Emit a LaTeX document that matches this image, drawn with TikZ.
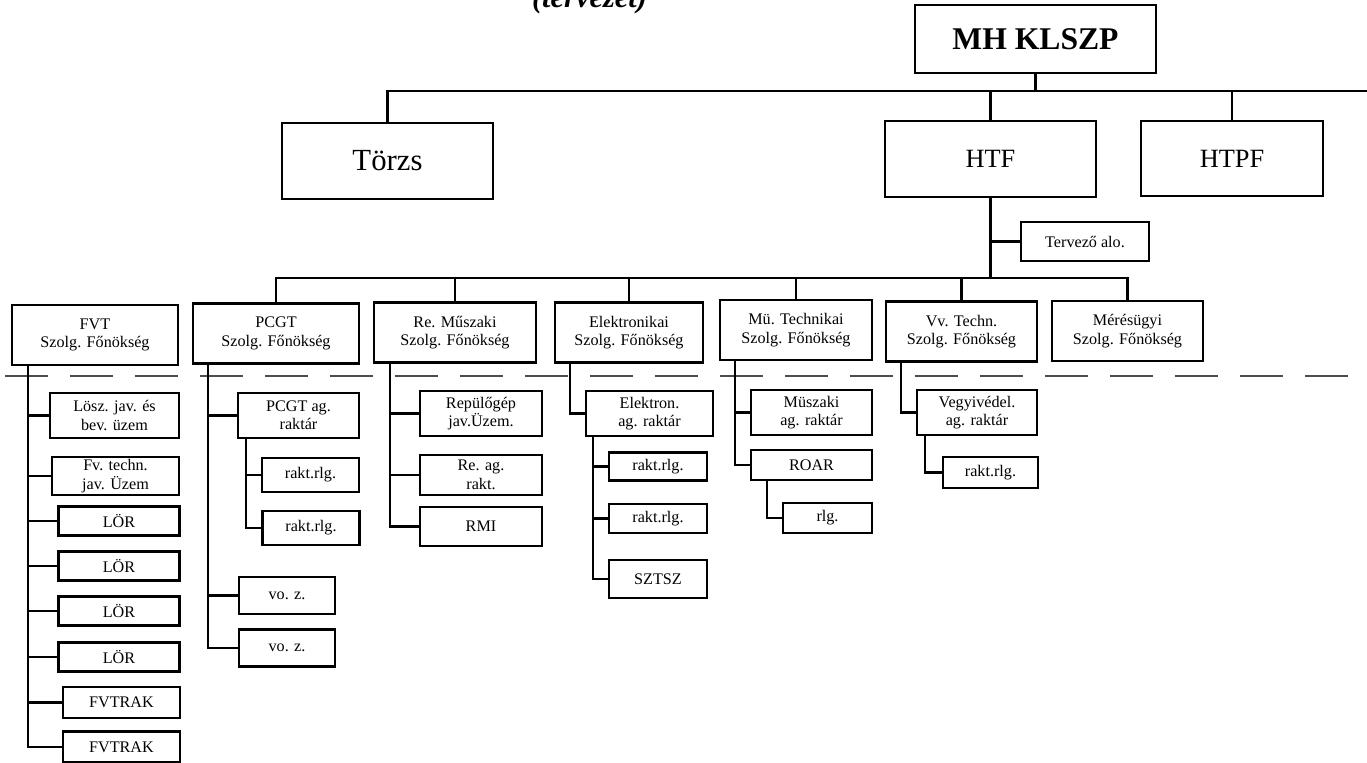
\documentclass[tikz,border=0pt]{standalone}
\usepackage{fontspec}
\setmainfont{Liberation Serif}[BoldFont={Liberation Serif Bold},ItalicFont={Liberation Serif Italic},BoldItalicFont={Liberation Serif Bold Italic}]

\begin{document}
\begin{tikzpicture}[x=0.02cm,y=-0.02cm,line width=1.3pt,
  box/.style={draw,inner sep=1pt,align=center,font=\fontsize{9.2}{10.5}\selectfont},
  bigbox/.style={draw,inner sep=2pt,minimum width=4.22cm,minimum height=1.52cm},
  cutline/.style={line width=0.6pt,black!70,dash pattern=on 0.86cm off 0.44cm}]
\useasboundingbox (0,0) rectangle (1367,763);
\node[anchor=base,font=\fontsize{17.3}{20}\selectfont\bfseries\itshape] (title) at (589.5,8) {(tervezet)};
  % Top level
  \node[bigbox,minimum width=4.82cm,minimum height=1.36cm,font=\fontsize{18}{20}\selectfont\bfseries] (mh) at (1035.5,39) {MH KLSZP};
  \node[bigbox,font=\fontsize{17.5}{20}\selectfont] (torzs) at (387.5,161) {Törzs};
  \node[bigbox,font=\fontsize{15}{18}\selectfont] (htf) at (990.5,159) {HTF};
  \node[bigbox,minimum width=3.64cm,minimum height=1.5cm,font=\fontsize{15}{18}\selectfont] (htpf) at (1232,158.5) {HTPF};
  \node[box,minimum width=2.56cm,minimum height=0.78cm] (terv) at (1085,241.5) {Tervező alo.};
  % Service chiefs
  \foreach \n/\x/\y/\w/\t in {fvt/95/335/3.32/FVT,pcgt/276/333.5/3.32/PCGT,rem/455/332.5/3.24/Re. Műszaki,
      elek/629/332.5/2.96/Elektronikai,mut/796/330/3.04/Mü. Technikai,vvt/961.5/331.5/3.02/Vv. Techn.,
      mer/1127.5/331/3.02/Mérésügyi}
    \node[box,minimum width=\w cm,minimum height=1.2cm] (\n) at (\x,\y) {\t\\Szolg. Főnökség};
  % Dashed separator
  \draw[cutline] (5,376) -- (1360,376);
  % FVT column
  \node[box,minimum width=2.58cm,minimum height=0.9cm] (losz) at (114.5,415.5) {Lösz. jav. és\\bev. üzem};
  \node[box,minimum width=2.54cm,minimum height=0.76cm] (fvj) at (115.5,476) {Fv. techn.\\jav. Üzem};
  \foreach \i/\y in {1/521,2/566,3/611,4/657}
    \node[box,minimum width=2.42cm,minimum height=0.58cm] (lor\i) at (119,\y) {LÖR};
  \foreach \i/\y in {1/702.5,2/747}
    \node[box,minimum width=2.34cm,minimum height=0.62cm] (rak\i) at (121.5,\y) {FVTRAK};
  % PCGT column
  \node[box,minimum width=2.42cm,minimum height=0.9cm] (pag) at (298.5,415.5) {PCGT ag.\\raktár};
  \node[box,minimum width=1.94cm,minimum height=0.68cm] (prr1) at (310.5,475) {rakt.rlg.};
  \node[box,minimum width=1.94cm,minimum height=0.68cm] (prr2) at (311,528) {rakt.rlg.};
  \node[box,minimum width=1.92cm,minimum height=0.74cm] (voz1) at (287,595.5) {vo. z.};
  \node[box,minimum width=1.92cm,minimum height=0.74cm] (voz2) at (287,648) {vo. z.};
  % Re. Muszaki column
  \node[box,minimum width=2.44cm,minimum height=0.9cm] (rep) at (481,413.5) {Repülőgép\\jav.Üzem.};
  \node[box,minimum width=2.44cm,minimum height=0.8cm] (rag) at (481,475) {Re. ag.\\rakt.};
  \node[box,minimum width=2.44cm,minimum height=0.78cm] (rmi) at (481,526.5) {RMI};
  % Elektronikai column
  \node[box,minimum width=2.54cm,minimum height=0.9cm] (eag) at (649.5,413.5) {Elektron.\\ag. raktár};
  \node[box,minimum width=1.96cm,minimum height=0.56cm] (err1) at (658,466.5) {rakt.rlg.};
  \node[box,minimum width=1.96cm,minimum height=0.58cm] (err2) at (658,518.5) {rakt.rlg.};
  \node[box,minimum width=1.96cm,minimum height=0.76cm] (sztsz) at (658,579) {SZTSZ};
  % Mu. Technikai column
  \node[box,minimum width=2.42cm,minimum height=0.9cm] (mag) at (811.5,412.5) {Müszaki\\ag. raktár};
  \node[box,minimum width=2.42cm,minimum height=0.6cm] (roar) at (811.5,465) {ROAR};
  \node[box,minimum width=1.78cm,minimum height=0.6cm] (rlg) at (827.5,518) {rlg.};
  % Vv. Techn. column
  \node[box,minimum width=2.4cm,minimum height=0.9cm] (vag) at (977,412.5) {Vegyivédel.\\ag. raktár};
  \node[box,minimum width=1.9cm,minimum height=0.62cm] (vrr) at (990.5,472.5) {rakt.rlg.};
  % Draw top connectors
  \coordinate (barR) at (1367,91);
  \draw (torzs.north) |- (barR);
  \foreach \n in {mh.south,htf.north,htpf.north}
    \draw (\n) -- (\n |- barR);
  % Draw HTF connectors
  \coordinate (bar2) at (0,278);
  \draw (htf.south) -- (htf.south |- bar2);
  \draw (htf.south |- terv.west) -- (terv.west);
  \draw (pcgt.north) |- (mer.north |- bar2) -- (mer.north);
  \foreach \n in {rem,elek,mut,vvt}
    \draw (\n.north) -- (\n.north |- bar2);
  % Draw column trunks
  \coordinate (fvtT) at ([xshift=0.34cm]fvt.south west);
  \foreach \c in {losz,fvj,lor1,lor2,lor3,lor4,rak1,rak2}
    \draw (fvtT) |- (\c.west);
  \coordinate (pcgtT) at ([xshift=0.32cm]pcgt.south west);
  \foreach \c in {pag,voz1,voz2}
    \draw (pcgtT) |- (\c.west);
  \coordinate (pagT) at ([xshift=0.18cm]pag.south west);
  \foreach \c in {prr1,prr2}
    \draw (pagT) |- (\c.west);
  \coordinate (remT) at ([xshift=0.34cm]rem.south west);
  \foreach \c in {rep,rag,rmi}
    \draw (remT) |- (\c.west);
  \coordinate (elekT) at ([xshift=0.32cm]elek.south west);
  \draw (elekT) |- (eag.west);
  \coordinate (eagT) at ([xshift=0.16cm]eag.south west);
  \foreach \c in {err1,err2,sztsz}
    \draw (eagT) |- (\c.west);
  \coordinate (mutT) at ([xshift=0.32cm]mut.south west);
  \foreach \c in {mag,roar}
    \draw (mutT) |- (\c.west);
  \coordinate (roarT) at ([xshift=0.34cm]roar.south west);
  \draw (roarT) |- (rlg.west);
  \coordinate (vvtT) at ([xshift=0.32cm]vvt.south west);
  \draw (vvtT) |- (vag.west);
  \coordinate (vagT) at ([xshift=0.18cm]vag.south west);
  \draw (vagT) |- (vrr.west);
\end{tikzpicture}
\end{document}
